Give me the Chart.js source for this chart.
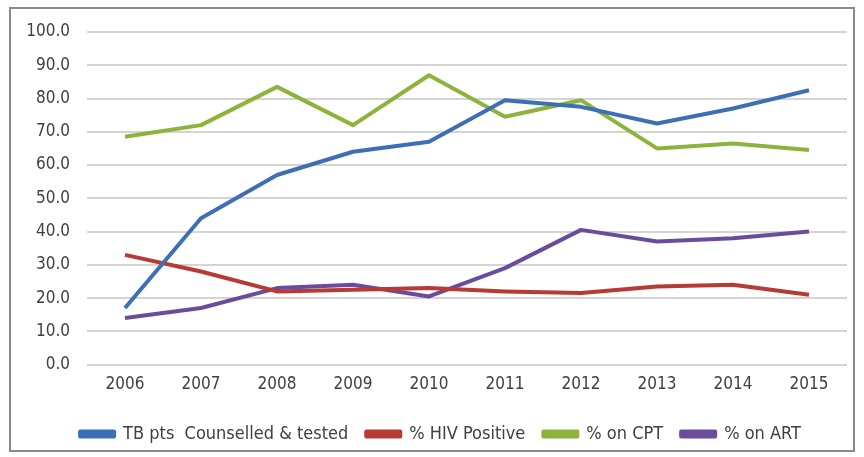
<!DOCTYPE html>
<html>
<head>
<meta charset="utf-8">
<script src="https://cdn.jsdelivr.net/npm/chart.js@4"></script>
<style>
    body { margin: 0; background: #fff; }
    #frame {
        position: absolute; left: 9px; top: 7px; width: 846px; height: 445px;
        border: 2px solid #8a8a8a; box-sizing: border-box;
    }
    #wrap { position: absolute; left: 0; top: 0; width: 864px; height: 457px; }
</style>
</head>
<body>
<div id="frame"></div>
<div id="wrap"><canvas id="trendChart" width="864" height="457"></canvas></div>
<script>
const years = ["2006", "2007", "2008", "2009", "2010", "2011", "2012", "2013", "2014", "2015"];

const tbCounselled = [17, 44, 57, 64, 67, 79.5, 77.5, 72.5, 77, 82.5];
const hivPositive = [33, 28, 22, 22.5, 23, 22, 21.5, 23.5, 24, 21];
const onCPT = [68.5, 72, 83.5, 72, 87, 74.5, 79.5, 65, 66.5, 64.5];
const onART = [14, 17, 23, 24, 20.5, 29, 40.5, 37, 38, 40];

const labelFont = "'Liberation Sans Narrow', 'DejaVu Sans Condensed', sans-serif";

function series(label, data, color) {
    return {
        label: label,
        data: data,
        borderColor: color,
        backgroundColor: color,
        borderWidth: 4,
        pointRadius: 0,
        tension: 0,
        borderJoinStyle: "round"
    };
}

// legend in the original sits a bit right of centre
const legendShift = {
    id: "legendShift",
    afterLayout(chart) {
        chart.legend.left += 17;
        chart.legend.right += 17;
    }
};

const ctx = document.getElementById("trendChart").getContext("2d");

new Chart(ctx, {
    type: "line",
    data: {
        labels: years,
        datasets: [
            series("TB pts  Counselled & tested", tbCounselled, "#3d6fb6"),
            series("% HIV Positive", hivPositive, "#b83a35"),
            series("% on CPT", onCPT, "#8db33d"),
            series("% on ART", onART, "#6a4c9c")
        ]
    },
    options: {
        responsive: false,
        animation: false,
        layout: { padding: { left: 0, top: 32, right: 17, bottom: 4 } },
        scales: {
            x: {
                offset: true,
                afterFit: function (scale) { scale.height += 10; },
                grid: { display: false },
                border: { display: false },
                ticks: { color: "#404040", font: { family: labelFont, size: 17 }, padding: 2 }
            },
            y: {
                min: 0,
                max: 100,
                afterFit: function (scale) { scale.width = 87; },
                grid: { color: "#d4d4d4", lineWidth: 2, drawTicks: false },
                border: { display: false },
                ticks: {
                    stepSize: 10,
                    color: "#404040",
                    font: { family: labelFont, size: 17 },
                    padding: 17,
                    callback: function (v) { return v.toFixed(1); }
                }
            }
        },
        plugins: {
            legend: {
                position: "bottom",
                labels: {
                    boxWidth: 34,
                    boxHeight: 5,
                    padding: 18,
                    color: "#404040",
                    font: { family: labelFont, size: 18 }
                }
            },
            tooltip: { enabled: false }
        }
    },
    plugins: [legendShift]
});
</script>
</body>
</html>
